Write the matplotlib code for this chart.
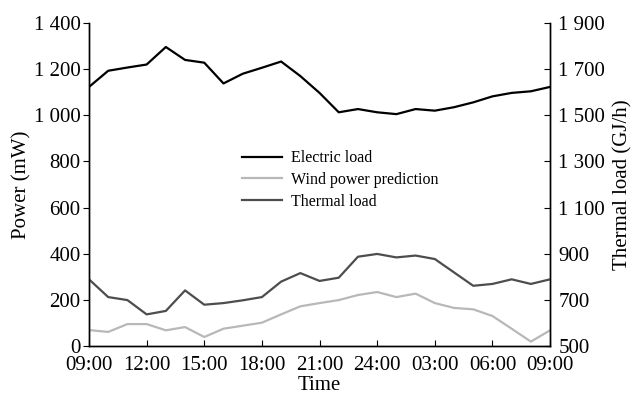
import numpy as np
import matplotlib.pyplot as plt
from matplotlib.ticker import FuncFormatter

plt.rcParams['font.family'] = ['Liberation Serif', 'DejaVu Serif']

HOURS = np.arange(0, 25)
XTICK_LABELS = ['09:00', '12:00', '15:00', '18:00', '21:00',
                '24:00', '03:00', '06:00', '09:00']

# power side (mW)
electric_load = [1123, 1193, 1207, 1220, 1296, 1240, 1228, 1138, 1180, 1206,
                 1233, 1170, 1097, 1013, 1027, 1013, 1005, 1027, 1020, 1035,
                 1056, 1082, 1097, 1104, 1123]
wind_prediction = [69, 61, 95, 95, 68, 82, 39, 75, 88, 101,
                   137, 172, 186, 199, 221, 234, 212, 227, 186, 165,
                   159, 130, 75, 19, 68]
# thermal side (GJ/h)
thermal_load = [789, 712, 699, 637, 652, 741, 679, 686, 698, 712,
                779, 816, 782, 796, 887, 899, 884, 892, 877, 819,
                761, 769, 789, 769, 789]


def space_thousands(v, pos):
    return f'{int(v):,}'.replace(',', ' ')


fig, ax = plt.subplots(figsize=(6.33, 4.0), dpi=100)
fig.subplots_adjust(left=0.1406, right=0.869, bottom=0.135, top=0.9425)
ax2 = ax.twinx()

l1, = ax.plot(HOURS, electric_load, color='black', lw=1.6, label='Electric load')
l2, = ax.plot(HOURS, wind_prediction, color='#b8b8b8', lw=1.6,
              label='Wind power prediction')
l3, = ax2.plot(HOURS, thermal_load, color='#4d4d4d', lw=1.6, label='Thermal load')

ax.set_xlim(0, 24)
ax.set_xticks(range(0, 25, 3))
ax.set_xticklabels(XTICK_LABELS)
ax.set_ylim(0, 1400)
ax.set_yticks(range(0, 1401, 200))
ax.yaxis.set_major_formatter(FuncFormatter(space_thousands))
ax2.set_ylim(500, 1900)
ax2.set_yticks(range(500, 1901, 200))
ax2.yaxis.set_major_formatter(FuncFormatter(space_thousands))

ax.set_xlabel('Time', fontsize=15, labelpad=1)
ax.set_ylabel('Power (mW)', fontsize=15, labelpad=2)
ax2.set_ylabel('Thermal load (GJ/h)', fontsize=15, labelpad=6)

for a in (ax, ax2):
    a.spines['top'].set_visible(False)
    a.spines[['left', 'right', 'bottom']].set_linewidth(1.0)
ax.tick_params(axis='x', direction='in', length=4, labelsize=15, pad=7)
ax.tick_params(axis='y', direction='out', length=4, labelsize=15, pad=2)
ax2.tick_params(axis='y', direction='in', length=4, labelsize=15, pad=6)

ax2.legend(handles=[l1, l2, l3], loc='upper left', bbox_to_anchor=(0.3, 0.65),
           frameon=False, fontsize=11.5, handlelength=2.5, labelspacing=0.35,
           handletextpad=0.6)

fig.savefig('out.png', dpi=100)
